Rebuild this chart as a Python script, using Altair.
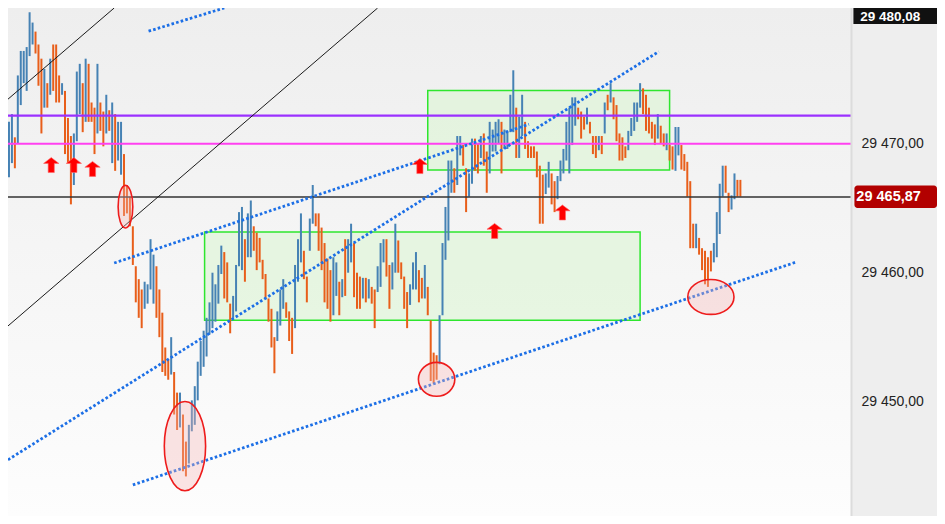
import altair as alt
import pandas as pd

# ---------------- data ----------------
HIGH = [
    29471.7, 29472.3, 29470.5, 29475.3, 29477.2, 29477.2, 29477.5, 29480.2, 29479.4, 29478.7,
    29477.7, 29476.6, 29475.8, 29474.7, 29476.6, 29477.7, 29477.7, 29475.3, 29474.7, 29474.1,
    29472.0, 29470.6, 29470.8, 29475.6, 29476.2, 29474.7, 29476.6, 29476.2, 29473.2, 29472.8,
    29476.2, 29473.2, 29472.5, 29473.8, 29472.6, 29473.2, 29472.3, 29471.7, 29471.7, 29469.2,
    29466.8, 29465.9, 29463.6, 29460.5, 29459.5, 29458.7, 29459.3, 29459.1, 29462.6, 29461.4,
    29460.5, 29458.7, 29456.9, 29454.2, 29453.3, 29455.0, 29452.3, 29450.7, 29450.7, 29449.0,
    29446.9, 29448.2, 29450.1, 29451.2, 29453.1, 29454.7, 29455.5, 29456.5, 29457.7, 29460.0,
    29459.1, 29460.6, 29462.1, 29461.6, 29460.8, 29457.6, 29458.2, 29460.6, 29464.7, 29465.1,
    29462.6, 29464.6, 29465.6, 29463.6, 29463.1, 29462.7, 29461.0, 29459.9, 29458.0, 29457.2,
    29455.0, 29457.0, 29458.7, 29459.5, 29457.7, 29457.0, 29456.5, 29460.6, 29462.6, 29464.6,
    29461.7, 29459.7, 29464.2, 29466.8, 29464.6, 29464.6, 29463.5, 29462.3, 29461.1, 29460.2,
    29461.2, 29460.8, 29459.3, 29459.5, 29462.6, 29462.6, 29463.8, 29462.3, 29460.0, 29459.7,
    29459.6, 29459.6, 29459.5, 29458.9, 29458.7, 29460.5, 29462.3, 29462.6, 29462.6, 29460.6,
    29460.8, 29463.8, 29462.5, 29460.8, 29459.7, 29458.5, 29459.1, 29460.8, 29461.6, 29460.2,
    29459.6, 29460.6, 29458.9, 29456.3, 29453.8, 29453.6, 29456.7, 29462.3, 29465.1, 29468.7,
    29468.7, 29468.1, 29470.6, 29470.6, 29469.9, 29468.1, 29467.7, 29470.4, 29470.4, 29470.0,
    29470.6, 29470.8, 29469.4, 29471.7, 29471.1, 29471.7, 29471.9, 29471.7, 29471.1, 29471.0,
    29473.8, 29475.7, 29472.8, 29472.1, 29473.8, 29471.7, 29470.2, 29469.8, 29469.8, 29469.4,
    29468.3, 29467.6, 29467.7, 29468.6, 29467.7, 29467.1, 29467.5, 29468.7, 29469.6, 29471.7,
    29472.8, 29473.6, 29473.6, 29472.8, 29472.5, 29472.1, 29472.8, 29471.7, 29470.6, 29470.6,
    29470.6, 29470.6, 29473.2, 29473.8, 29474.7, 29473.6, 29473.0, 29470.8, 29470.5, 29469.8,
    29471.0, 29472.0, 29473.2, 29473.2, 29474.7, 29474.3, 29473.8, 29472.8, 29471.7, 29471.5,
    29472.3, 29471.4, 29470.8, 29470.8, 29469.9, 29469.8, 29471.3, 29471.3, 29469.9, 29469.2,
    29468.6, 29467.1, 29463.8, 29463.8, 29462.7, 29461.9, 29461.7, 29461.2, 29461.7, 29462.3,
    29464.7, 29466.9, 29468.3, 29468.3, 29466.2, 29466.0, 29467.7, 29467.2, 29467.2,
]
LOW = [
    29467.4, 29468.5, 29468.1, 29470.0, 29473.0, 29474.7, 29474.1, 29476.8, 29477.7, 29477.0,
    29474.5, 29470.8, 29472.8, 29472.8, 29473.8, 29474.1, 29473.2, 29473.2, 29473.8, 29469.2,
    29468.5, 29465.3, 29466.8, 29470.2, 29472.3, 29470.9, 29471.7, 29471.7, 29471.7, 29469.2,
    29470.8, 29471.0, 29469.8, 29470.8, 29471.0, 29468.5, 29467.9, 29468.7, 29467.6, 29464.4,
    29464.6, 29463.6, 29460.6, 29457.7, 29456.5, 29455.7, 29457.2, 29457.6, 29458.7, 29457.6,
    29456.5, 29455.0, 29452.3, 29452.0, 29451.7, 29452.1, 29449.0, 29447.8, 29448.0, 29444.6,
    29444.2, 29445.2, 29447.7, 29448.2, 29450.1, 29452.0, 29452.7, 29453.5, 29455.2, 29455.7,
    29456.2, 29457.6, 29459.9, 29458.0, 29457.7, 29455.3, 29456.5, 29457.0, 29460.5, 29460.2,
    29459.3, 29461.2, 29461.2, 29461.7, 29460.2, 29460.8, 29459.5, 29458.0, 29456.2, 29454.2,
    29452.2, 29454.7, 29455.9, 29457.2, 29456.5, 29454.7, 29453.7, 29455.7, 29459.3, 29460.8,
    29459.5, 29457.7, 29461.7, 29463.8, 29463.6, 29461.7, 29460.2, 29457.7, 29457.2, 29456.2,
    29456.7, 29458.2, 29456.7, 29458.1, 29458.2, 29460.0, 29460.8, 29458.1, 29457.2, 29457.2,
    29458.0, 29457.7, 29458.0, 29457.6, 29455.7, 29458.5, 29458.9, 29460.8, 29459.7, 29457.2,
    29458.7, 29460.0, 29460.0, 29459.5, 29457.2, 29455.7, 29457.5, 29458.7, 29458.7, 29457.7,
    29458.0, 29458.0, 29456.7, 29451.6, 29451.4, 29451.7, 29452.9, 29456.7, 29461.0, 29462.5,
    29466.2, 29466.2, 29466.8, 29469.1, 29468.3, 29464.7, 29465.9, 29466.9, 29467.9, 29467.7,
    29468.9, 29468.3, 29466.2, 29467.7, 29469.4, 29469.4, 29470.0, 29467.7, 29469.6, 29469.6,
    29470.9, 29470.9, 29468.9, 29468.9, 29470.6, 29469.6, 29468.9, 29468.9, 29468.9, 29467.4,
    29463.8, 29463.8, 29466.1, 29466.6, 29465.3, 29464.7, 29465.7, 29467.1, 29467.7, 29468.7,
    29467.7, 29469.9, 29471.4, 29471.9, 29470.4, 29471.1, 29471.5, 29470.8, 29469.2, 29468.9,
    29469.5, 29469.2, 29470.8, 29472.6, 29473.2, 29471.9, 29470.2, 29468.7, 29468.7, 29468.9,
    29469.5, 29470.6, 29471.0, 29471.7, 29472.8, 29472.3, 29471.0, 29470.8, 29470.4, 29469.9,
    29470.4, 29470.0, 29469.8, 29469.5, 29468.7, 29468.0, 29467.9, 29469.1, 29468.0, 29467.9,
    29465.9, 29461.9, 29461.9, 29461.9, 29461.4, 29460.2, 29459.1, 29458.9, 29460.1, 29460.8,
    29461.2, 29463.0, 29465.9, 29466.2, 29464.7, 29464.9, 29465.7, 29465.9, 29465.9,
]
# B = up bar (blue), O = down bar (orange)
DIRECTION = list(
    "BBOBBBBBBO" "OOBOBOOOBO" "OOBBBOBOOO" "BOOBOBOBBO" "OOOOOOBBBB"
    "OOOOOBOOBO" "OBBBBBBBBB" "BBBOOOBBBB" "OBBOOOOOOO" "OBBBOOOBBB"
    "OOBBOOOOOO" "BBOBOBBOOO" "BOBOOBBBOO" "BBOOOOBBBO" "OBOOOOBBBB"
    "BOBBOOBBOO" "BOOBBBBOBB" "BBOBBOOOOO" "OOBBOOBBBB" "BBBOOOBOOO"
    "BOBOBOOOOO" "BBBBBOOOOO" "BOOBOOBBOO" "OOOBOOOOOB" "BBBOOBBOO"
)

TICK_VALUES = [29450, 29460, 29470]
LEVEL_PURPLE = 29472.18
LEVEL_MAGENTA = 29470.0
LAST_PRICE = 29465.87
TOP_PRICE = 29480.08

# zones (bar index / price)
ZONE_X0 = [66.33, 142.0]
ZONE_X1 = [214.0, 224.0]
ZONE_Y0 = [29456.32, 29467.97]
ZONE_Y1 = [29463.16, 29474.14]

# black diagonal lines (two points each)
BLACK_ID = ["a", "a", "b", "b"]
BLACK_X = [-0.33, 35.67, -0.33, 125.0]
BLACK_Y = [29473.46, 29480.53, 29455.87, 29480.53]

# blue dotted trend lines
BLUE_ID = ["top", "top", "chan", "chan", "steep", "steep", "low", "low"]
BLUE_X = [47.33, 73.0, 35.67, 176.33, -0.33, 220.33, 42.0, 267.0]
BLUE_Y = [29478.73, 29480.53, 29460.75, 29471.51, 29445.49, 29477.15, 29443.54, 29460.83]

# ellipse centres
ELL_X = [39.5, 59.67, 145.0, 238.0]
ELL_Y = [29465.12, 29446.55, 29451.73, 29458.12]

# up arrows
ARROW_X = [14.33, 22.0, 28.33, 139.33, 164.67, 187.67]
ARROW_Y = [29468.35, 29468.35, 29468.05, 29468.27, 29463.24, 29464.67]

# ---------------- scales ----------------
X_DOMAIN = [-0.33, 314.67]
Y_DOMAIN = [29441.13, 29480.53]
PLOT_END = 285.67

W, H = 929, 508
xs = alt.Scale(domain=X_DOMAIN, nice=False, zero=False)
ys = alt.Scale(domain=Y_DOMAIN, nice=False, zero=False)
yax = alt.Axis(
    orient="right", values=TICK_VALUES, offset=-76, domain=False, ticks=False,
    tickSize=0, grid=False, labelPadding=0, labelFontSize=14, labelColor="#222222",
    labelFont="Liberation Sans", labelAlign="left", labelBaseline="middle",
    title=None, zindex=5,
    labelExpr="replace(replace(format(datum.value, ',.2f'), ',', ' '), '.', ',')",
)


def X(f):
    return alt.X(f, type="quantitative", scale=xs, axis=None)


def Y(f):
    return alt.Y(f, type="quantitative", scale=ys, axis=yax)


# ---------------- frames ----------------
bars = pd.DataFrame({"i": range(len(HIGH)), "high": HIGH, "low": LOW, "dir": DIRECTION})
plot_bg = pd.DataFrame({"x0": [X_DOMAIN[0]], "x1": [PLOT_END], "y0": [Y_DOMAIN[0]], "y1": [Y_DOMAIN[1]]})
panel_bg = pd.DataFrame({"x0": [PLOT_END], "x1": [X_DOMAIN[1]], "y0": [Y_DOMAIN[0]], "y1": [Y_DOMAIN[1]]})
zones = pd.DataFrame({"x0": ZONE_X0, "x1": ZONE_X1, "y0": ZONE_Y0, "y1": ZONE_Y1})
black = pd.DataFrame({"id": BLACK_ID, "x": BLACK_X, "y": BLACK_Y})
blue = pd.DataFrame({"id": BLUE_ID, "x": BLUE_X, "y": BLUE_Y})
arrows = pd.DataFrame({"x": ARROW_X, "y": ARROW_Y})


def hline(value, color, width):
    df = pd.DataFrame({"x0": [X_DOMAIN[0]], "x1": [PLOT_END], "y": [value]})
    return alt.Chart(df).mark_rule(color=color, strokeWidth=width).encode(
        x=X("x0"), x2="x1", y=Y("y"))


def ellipse_path(w, h):
    a = w / h
    k = 0.5523
    return (f"M {-a:.4f} 0 C {-a:.4f} {-k} {-a*k:.4f} -1 0 -1 "
            f"C {a*k:.4f} -1 {a:.4f} {-k} {a:.4f} 0 "
            f"C {a:.4f} {k} {a*k:.4f} 1 0 1 "
            f"C {-a*k:.4f} 1 {-a:.4f} {k} {-a:.4f} 0 Z")


ELL_DIMS = [(14.7, 42.7), (41.3, 89.2), (36.4, 33.9), (46.2, 34.9)]

layers = []

grad = alt.LinearGradient(
    gradient="linear",
    stops=[alt.GradientStop(color="#eeeeee", offset=0), alt.GradientStop(color="#fdfdfd", offset=1)],
    x1=0, x2=0, y1=0, y2=1,
)
layers.append(alt.Chart(plot_bg).mark_rect(color=grad).encode(x=X("x0"), x2="x1", y=Y("y0"), y2="y1"))

layers.append(alt.Chart(zones).mark_rect(
    fill="#dcf5d4", fillOpacity=0.6, stroke="#2ee62e", strokeWidth=1.5
).encode(x=X("x0"), x2="x1", y=Y("y0"), y2="y1"))

layers.append(alt.Chart(bars).mark_rule(strokeWidth=2).encode(
    x=X("i"), y=Y("low"), y2="high",
    color=alt.Color("dir:N", scale=alt.Scale(domain=["B", "O"], range=["#4682b4", "#e85e1a"]), legend=None),
))

layers.append(hline(LEVEL_PURPLE, "#9b30ff", 2.2))
layers.append(hline(LEVEL_MAGENTA, "#ff40f0", 2.2))
layers.append(hline(LAST_PRICE, "#333333", 1.3))

layers.append(alt.Chart(black).mark_line(color="#1a1a1a", strokeWidth=1).encode(
    x=X("x"), y=Y("y"), detail="id:N"))

layers.append(alt.Chart(blue).mark_line(color="#1c6fe6", strokeWidth=2.8, strokeDash=[2.6, 2.2]).encode(
    x=X("x"), y=Y("y"), detail="id:N"))

for k, (w, h) in enumerate(ELL_DIMS):
    df = pd.DataFrame({"x": [ELL_X[k]], "y": [ELL_Y[k]]})
    layers.append(alt.Chart(df).mark_point(
        shape=ellipse_path(w, h), size=h * h, filled=True,
        fill="#f7b4b4", fillOpacity=0.35, stroke="#ee1c1c", strokeWidth=1.6, opacity=1,
    ).encode(x=X("x"), y=Y("y")))

ARROW = "M 0 -1 L 1.02 -0.22 L 0.41 -0.22 L 0.41 1 L -0.41 1 L -0.41 -0.22 L -1.02 -0.22 Z"
layers.append(alt.Chart(arrows).mark_point(
    shape=ARROW, size=225, filled=True, fill="#ff0000", stroke="#ff6666", strokeWidth=0.6, opacity=1,
).encode(x=X("x"), y=Y("y")))

# right price panel
layers.append(alt.Chart(panel_bg).mark_rect(color="#eeeeee").encode(
    x=X("x0"), x2="x1", y=Y("y0"), y2="y1"))
edge = pd.DataFrame({"x": [PLOT_END], "y0": [Y_DOMAIN[0]], "y1": [Y_DOMAIN[1]]})
layers.append(alt.Chart(edge).mark_rule(color="#dcdcdc", strokeWidth=2).encode(
    x=X("x"), y=Y("y0"), y2="y1"))

top_box = pd.DataFrame({"x0": [286.33], "x1": [X_DOMAIN[1]], "y0": [TOP_PRICE - 0.8], "y1": [TOP_PRICE + 0.5],
                        "tx": [288.67], "ty": [TOP_PRICE], "label": ["29 480,08"]})
layers.append(alt.Chart(top_box).mark_rect(color="#111111").encode(
    x=X("x0"), x2="x1", y=Y("y0"), y2="y1"))
layers.append(alt.Chart(top_box).mark_text(
    align="left", baseline="middle", dy=3, font="Liberation Sans", fontSize=13.5, fontWeight="bold",
    color="#ffffff"
).encode(x=X("tx"), y=Y("ty"), text="label:N"))

last_box = pd.DataFrame({"x0": [286.67], "x1": [X_DOMAIN[1]], "y0": [LAST_PRICE - 0.85], "y1": [LAST_PRICE + 0.9],
                         "tx": [287.33], "ty": [LAST_PRICE], "label": ["29 465,87"]})
layers.append(alt.Chart(last_box).mark_rect(color="#b20000", cornerRadius=3).encode(
    x=X("x0"), x2="x1", y=Y("y0"), y2="y1"))
layers.append(alt.Chart(last_box).mark_text(
    align="left", baseline="middle", font="Liberation Sans", fontSize=14.5, fontWeight="bold", color="#ffffff"
).encode(x=X("tx"), y=Y("ty"), text="label:N"))

chart = alt.layer(*layers).properties(
    width=W, height=H, padding=0, autosize=alt.AutoSizeParams(type="none"), background="#ffffff"
).configure_view(strokeWidth=0)

chart.save("out.html", embed_options={"renderer": "svg", "actions": False})
